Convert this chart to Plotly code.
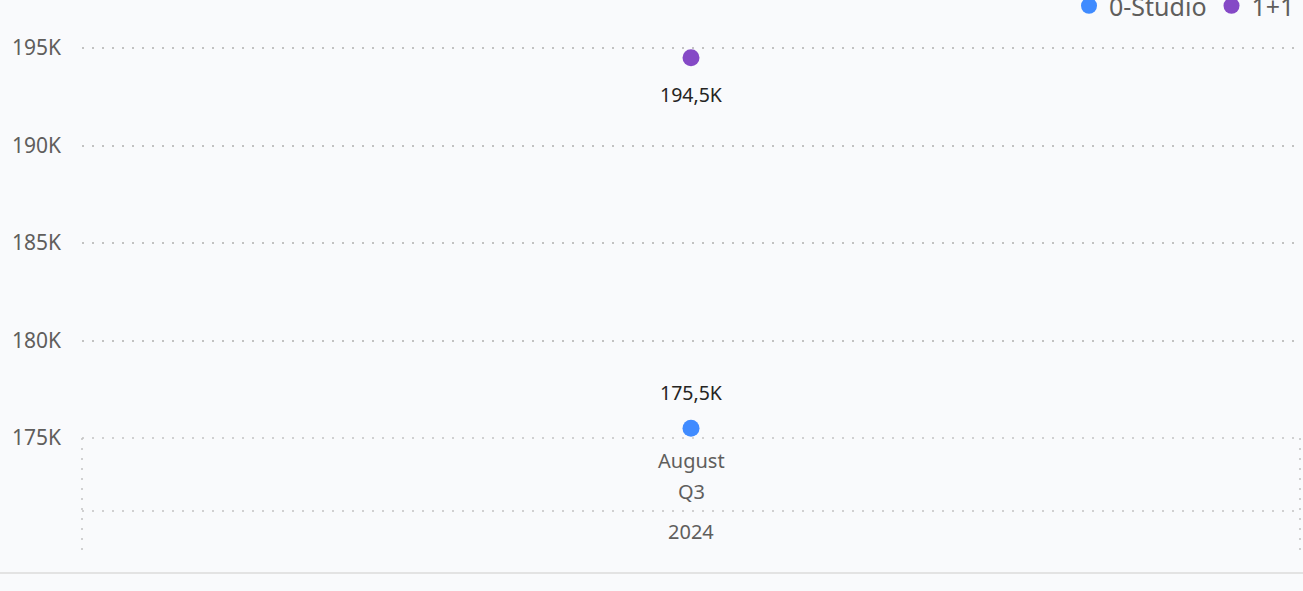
import plotly.graph_objects as go

months = ["August"]
quarters = ["Q3"]
years = ["2024"]
series_names = ["0-Studio", "1+1"]
series_values_k = [[175.5], [194.5]]
series_colors = ["#408BFF", "#8549C6"]
label_shift = [36, -37]
y_ticks = [175, 180, 185, 190, 195]

W, H = 1303, 591
ml, mr, mt, mb = 82, 3, 0, 153
plot_h = H - mt - mb
plot_w = W - ml - mr

fig = go.Figure()
for name, vals, col in zip(series_names, series_values_k, series_colors):
    fig.add_trace(go.Scatter(
        x=months, y=vals, name=name, mode="markers",
        marker=dict(size=17, color=col),
        hoverinfo="skip",
    ))

annotations = []
for vals, sh in zip(series_values_k, label_shift):
    for m, v in zip(months, vals):
        annotations.append(dict(
            x=m, y=v, xref="x", yref="y", yshift=sh, showarrow=False,
            text=(f"{v:.1f}K").replace(".", ","),
            font=dict(size=19.5, color="#252423"),
        ))

def py(pix):
    return 1 - (pix - mt) / plot_h

cat_font = dict(size=20, color="#605E5C")
for m in months:
    annotations.append(dict(x=m, xref="x", y=py(460), yref="paper", yanchor="middle",
                            text=m, showarrow=False, font=cat_font))
for q in quarters:
    annotations.append(dict(x=0.5, xref="paper", y=py(491), yref="paper", yanchor="middle",
                            text=q, showarrow=False, font=cat_font))
for yv in years:
    annotations.append(dict(x=0.5, xref="paper", y=py(531), yref="paper", yanchor="middle",
                            text=yv, showarrow=False, font=cat_font))

dotpat = "2px,8px"
dot = dict(color="#C2C2C2", width=1.5, dash=dotpat)
shapes = [
    dict(type="line", xref="paper", yref="paper", x0=0, x1=1, y0=py(438), y1=py(438), line=dot),
    dict(type="line", xref="paper", yref="paper", x0=0, x1=1, y0=py(511), y1=py(511), line=dot),
    dict(type="line", xref="paper", yref="paper", x0=0, x1=0, y0=py(438), y1=py(552), line=dot),
    dict(type="line", xref="paper", yref="paper", x0=1, x1=1, y0=py(438), y1=py(552), line=dot),
    dict(type="line", xref="paper", yref="paper", x0=-ml / plot_w, x1=1 + mr / plot_w,
         y0=py(573), y1=py(573), line=dict(color="#E3E3E3", width=2)),
]

ymin = 175
ymax = 175 + plot_h / 19.5

fig.update_layout(
    width=W, height=H,
    margin=dict(l=ml, r=mr, t=mt, b=mb, autoexpand=False),
    paper_bgcolor="#F9FAFC", plot_bgcolor="#F9FAFC",
    font=dict(family="Segoe UI, Noto Sans, sans-serif", color="#605E5C"),
    showlegend=True,
    legend=dict(orientation="h", xanchor="right", x=1, yanchor="middle", y=py(6),
                font=dict(size=25, color="#605E5C"), bgcolor="rgba(0,0,0,0)",
                itemsizing="trace", itemwidth=30, tracegroupgap=0),
    xaxis=dict(type="category", showticklabels=False, showgrid=False, zeroline=False,
               showline=False, ticks=""),
    yaxis=dict(range=[ymin, ymax], tickvals=y_ticks, ticktext=[f"{t}K" for t in y_ticks],
               showgrid=True, gridcolor="#C2C2C2", griddash=dotpat, gridwidth=1.5,
               zeroline=False, showline=False, ticks="", ticklabelstandoff=20,
               tickfont=dict(size=21, color="#605E5C")),
    annotations=annotations,
    shapes=shapes,
)

fig.write_html("out.html", config={"displayModeBar": False},
               post_script="document.body.style.margin='0';document.body.style.background='#F9FAFC';")
